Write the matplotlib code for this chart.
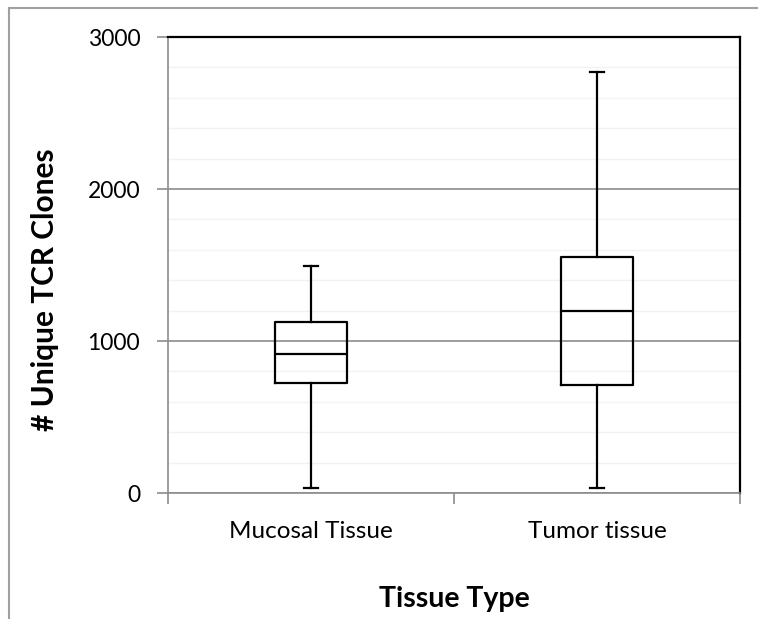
import matplotlib.pyplot as plt
from matplotlib.lines import Line2D
from matplotlib.ticker import MultipleLocator

plt.rcParams['font.family'] = ['Lato', 'DejaVu Sans']

# Box plot summaries
categories = ['Mucosal Tissue', 'Tumor tissue']
whisker_low = [33, 33]
q1 = [724, 711]
median = [914, 1197]
q3 = [1125, 1553]
whisker_high = [1493, 2770]

stats = []
for i in range(len(categories)):
    stats.append({'whislo': whisker_low[i], 'q1': q1[i], 'med': median[i],
                  'q3': q3[i], 'whishi': whisker_high[i], 'fliers': []})

fig = plt.figure(figsize=(7.58, 6.19), dpi=100)
ax = fig.add_axes([168 / 758, 1 - 493 / 619, 572 / 758, 456 / 619])

# outer frame of the pasted chart
fig.add_artist(Line2D([8.5 / 758, 8.5 / 758], [0, 1 - 7.5 / 619], color='#a0a0a0', lw=1.5))
fig.add_artist(Line2D([8.5 / 758, 1], [1 - 7.5 / 619, 1 - 7.5 / 619], color='#a0a0a0', lw=1.5))

line = dict(color='black', linewidth=1.6)
ax.bxp(stats, positions=[0.5, 1.5], widths=0.255, capwidths=0.05, showfliers=False,
       boxprops=line, whiskerprops=line, capprops=line, medianprops=line)

ax.set_xlim(0, 2)
ax.set_ylim(0, 3000)
ax.yaxis.set_major_locator(MultipleLocator(1000))
ax.yaxis.set_minor_locator(MultipleLocator(200))
ax.grid(axis='y', which='major', color='#8c8c8c', lw=1.2, zorder=0)
ax.grid(axis='y', which='minor', color='#f0f3f3', lw=1.0, zorder=0)
ax.set_axisbelow(True)

ax.set_xticks([0, 1, 2])
ax.set_xticklabels([])
ax.set_xticks([0.5, 1.5], minor=True)
ax.set_xticklabels(categories, minor=True, fontsize=17.5)
ax.tick_params(axis='x', which='minor', length=0, pad=20)
ax.tick_params(axis='x', which='major', length=8, color='#8c8c8c', width=1.2)
ax.tick_params(axis='y', which='major', length=8, color='#8c8c8c', width=1.2, labelsize=16.5, pad=12)
ax.tick_params(axis='y', which='minor', length=0)

ax.spines['left'].set_color('#8c8c8c')
ax.spines['bottom'].set_color('#8c8c8c')
ax.spines['left'].set_linewidth(1.2)
ax.spines['bottom'].set_linewidth(1.2)
ax.spines['top'].set_color('black')
ax.spines['right'].set_color('black')
ax.spines['top'].set_linewidth(1.6)
ax.spines['right'].set_linewidth(1.6)

ax.set_ylabel('# Unique TCR Clones', fontsize=21.5, fontweight='bold')
ax.yaxis.set_label_coords(-0.19, 0.445)
ax.set_xlabel('Tissue Type', fontsize=20.5, fontweight='bold', labelpad=32)

fig.savefig('out.png', dpi=100)
